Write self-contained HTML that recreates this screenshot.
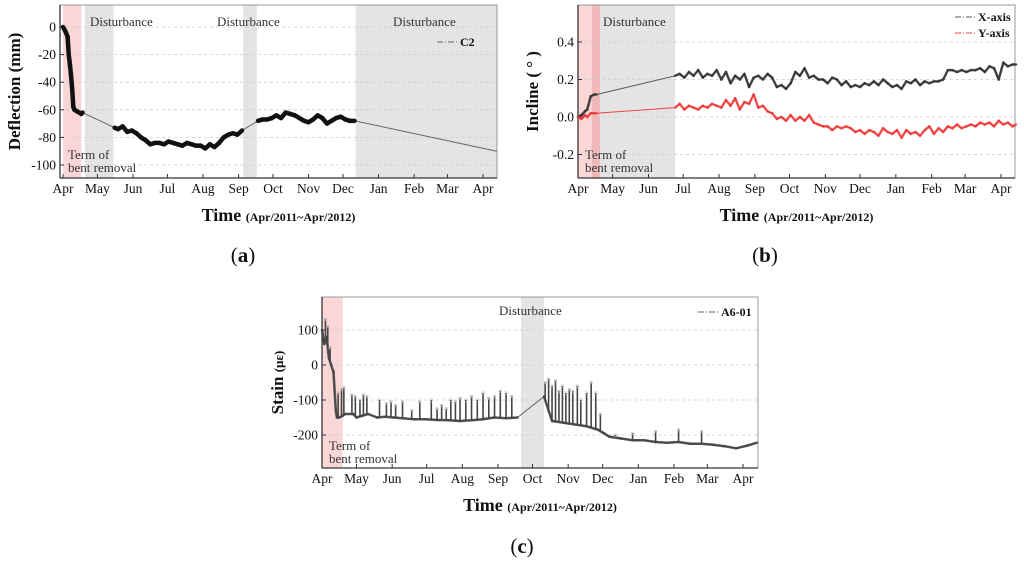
<!DOCTYPE html>
<html><head><meta charset="utf-8">
<style>
body{margin:0;background:#fff;width:1024px;height:562px;overflow:hidden;font-family:"Liberation Serif",serif;}
svg{position:absolute;left:0;top:0}
</style></head>
<body>
<svg id="s" width="1024" height="562" xmlns="http://www.w3.org/2000/svg"></svg>
<script>
// ---------- data ----------
const months=["Apr","May","Jun","Jul","Aug","Sep","Oct","Nov","Dec","Jan","Feb","Mar","Apr"];
const monthDays=[0,30,61,91,122,153,183,214,244,275,306,335,366];
const aTicks=[0,-20,-40,-60,-80,-100];
const aDays=[0,2,4,5,6,7,8,9,10,12,14,16,17,45,48,52,56,60,64,68,72,76,80,84,88,92,96,100,104,108,112,116,120,124,128,132,136,140,144,148,152,156,170,174,178,182,186,190,194,198,202,206,210,214,218,222,226,230,234,238,242,246,250,254,378];
const aVals=[0,-3,-7,-20,-27,-35,-45,-58,-60,-61,-62,-63,-62,-73,-74,-72,-76,-75,-77,-80,-82,-85,-84,-84,-85,-83,-84,-85,-86,-84,-85,-86,-86,-88,-85,-87,-84,-80,-78,-77,-78,-75,-68,-67,-67,-66,-64,-66,-62,-63,-64,-66,-68,-69,-67,-64,-66,-70,-68,-66,-65,-67,-68,-68,-90];
const bTicks=[0.4,0.2,0.0,-0.2];
const bDays=[0,3,6,8,11,14,16,84,88,92,96,100,104,108,112,116,120,124,128,132,136,140,144,148,152,156,160,164,168,172,176,180,184,188,192,196,200,204,208,212,216,220,224,228,232,236,240,244,248,252,256,260,264,268,272,276,280,284,288,292,296,300,304,308,312,316,320,324,328,332,336,340,344,348,352,356,360,364,368,372,376,379];
const bX=[0.0,0.01,0.03,0.04,0.11,0.12,0.12,0.22,0.23,0.21,0.24,0.22,0.25,0.21,0.23,0.22,0.25,0.2,0.24,0.18,0.22,0.2,0.23,0.16,0.21,0.22,0.2,0.23,0.21,0.16,0.17,0.15,0.18,0.24,0.22,0.26,0.21,0.22,0.2,0.2,0.18,0.21,0.2,0.17,0.19,0.16,0.17,0.16,0.18,0.17,0.19,0.17,0.2,0.18,0.16,0.17,0.15,0.19,0.18,0.2,0.17,0.19,0.18,0.19,0.19,0.2,0.25,0.25,0.24,0.25,0.24,0.25,0.25,0.26,0.24,0.27,0.26,0.2,0.29,0.27,0.28,0.28];
const bY=[0.0,-0.01,0.01,0.0,0.02,0.02,0.02,0.05,0.07,0.04,0.06,0.05,0.04,0.06,0.05,0.07,0.06,0.05,0.09,0.06,0.1,0.04,0.08,0.07,0.12,0.05,0.06,0.03,0.02,-0.01,0.0,-0.02,0.01,-0.02,0.0,-0.02,0.01,-0.03,-0.04,-0.05,-0.05,-0.07,-0.05,-0.06,-0.05,-0.06,-0.08,-0.07,-0.09,-0.07,-0.08,-0.1,-0.06,-0.08,-0.09,-0.07,-0.11,-0.07,-0.09,-0.08,-0.1,-0.07,-0.05,-0.09,-0.06,-0.08,-0.05,-0.06,-0.04,-0.06,-0.05,-0.04,-0.05,-0.03,-0.04,-0.03,-0.05,-0.02,-0.04,-0.03,-0.05,-0.04];
const cTicks=[100,0,-100,-200];
const cDays=[0,2,4,6,8,10,12,13,15,18,20,27,30,35,40,48,55,62,70,80,90,100,110,120,130,140,150,160,170,193,200,210,220,230,240,245,250,260,270,280,290,300,310,320,330,340,350,360,370,378];
const cVals=[100,60,80,20,0,-20,-130,-150,-150,-145,-140,-140,-150,-145,-140,-150,-148,-150,-152,-155,-155,-157,-158,-160,-158,-155,-150,-152,-150,-90,-160,-165,-170,-175,-185,-195,-205,-210,-215,-215,-220,-222,-220,-225,-225,-228,-232,-238,-230,-222];
const cSpikeDays=[3,5,7,14,17,19,26,29,33,36,39,50,56,60,64,70,78,85,95,100,104,108,112,116,120,125,130,135,140,145,150,155,160,165,194,197,200,203,206,209,212,215,218,222,225,230,234,238,242,255,270,290,310,330];
const cSpikeVals=[130,110,50,-80,-70,-65,-85,-90,-100,-85,-90,-100,-110,-105,-115,-105,-130,-105,-100,-125,-115,-125,-100,-105,-95,-100,-90,-100,-80,-95,-90,-75,-80,-90,-50,-40,-60,-45,-75,-60,-80,-70,-75,-60,-100,-80,-50,-80,-140,-200,-195,-190,-185,-190];

const NS="http://www.w3.org/2000/svg";
const svg=document.getElementById('s');
function el(tag,attrs,parent){const e=document.createElementNS(NS,tag);for(const k in attrs)e.setAttribute(k,attrs[k]);(parent||svg).appendChild(e);return e;}
function txt(x,y,s,size,opts,parent){const t=el('text',Object.assign({x:x,y:y,'font-size':size,'font-family':'Liberation Serif, serif',fill:'#111'},opts||{}),parent);t.textContent=s;return t;}

function panel(P){
  const g=el('g',{});
  
  
  const X=d=>P.x0+(d)*(P.x1-P.x0)/366;
  const Y=v=>P.yA+(v-P.vA)*(P.yB-P.yA)/(P.vB-P.vA);
  P.shades.forEach(s=>{const r=el('rect',{x:X(s[0]),y:P.top,width:X(s[1])-X(s[0]),height:P.bot-P.top,fill:s[2]},g);
    
    });
  P.ticks.forEach(v=>{const l=el('line',{x1:P.left,x2:P.right,y1:Y(v),y2:Y(v),stroke:'#ccc','stroke-dasharray':'3,3','stroke-width':0.8},g);
    
    });
  const fr=el('rect',{x:P.left,y:P.top,width:P.right-P.left,height:P.bot-P.top,fill:'none',stroke:'#999','stroke-width':1},g);
  
  
  el('line',{x1:P.left,x2:P.left,y1:P.top,y2:P.bot,stroke:'#333','stroke-width':1.3},g);
  el('line',{x1:P.left,x2:P.right,y1:P.bot,y2:P.bot,stroke:'#333','stroke-width':1.3},g);
  P.ticks.forEach(v=>{el('line',{x1:P.left,x2:P.left+4,y1:Y(v),y2:Y(v),stroke:'#333'},g);
    const t=txt(P.left-4,Y(v)+4.5,P.fmt(v),13.5,{'text-anchor':'end'},g);
    
    });
  months.forEach((m,i)=>{const x=X(monthDays[i]);el('line',{x1:x,x2:x,y1:P.bot,y2:P.bot-4,stroke:'#333'},g);
    const t=txt(x,P.bot+15,m,13.5,{'text-anchor':'middle'},g);
    
    });
  P.series.forEach(S=>{
    const pts=S.d.map((d,i)=>X(d).toFixed(1)+','+Y(S.v[i]).toFixed(1)).join(' ');
    const pl=el('polyline',{points:pts,fill:'none',stroke:S.thin,'stroke-width':1},g);
    
    
    for(let i=1;i<S.d.length;i++){ if(S.d[i]-S.d[i-1]<=S.gap){
      const sg=el('line',{x1:X(S.d[i-1]),y1:Y(S.v[i-1]),x2:X(S.d[i]),y2:Y(S.v[i]),stroke:S.col,'stroke-width':S.w,'stroke-linecap':'round','stroke-opacity':S.op},g);
      
      }}
    if(S.sd){S.sd.forEach((d,i)=>{
      let j=1;while(j<S.d.length-1&&S.d[j]<d)j++;
      const f=(d-S.d[j-1])/(S.d[j]-S.d[j-1]);const base=S.v[j-1]+f*(S.v[j]-S.v[j-1]);
      const sp=el('line',{x1:X(d),x2:X(d),y1:Y(base),y2:Y(S.sv[i]),stroke:S.col,'stroke-width':1.6},g);
      
      
      el('circle',{cx:X(d),cy:Y(S.sv[i]),r:1.3,fill:'none',stroke:'#bbb','stroke-width':0.6},g);});}
  });
  P.notes.forEach(n=>{const t=txt(n[0],n[1],n[2],13,{fill:'#333'},g);
    
    });
  P.legend.forEach((L,i)=>{const y=P.legY+i*16;
    el('line',{x1:P.right-60,x2:P.right-38,y1:y-4,y2:y-4,stroke:L[1],'stroke-dasharray':'6,2,1,2','stroke-width':1},g);
    const t=txt(P.right-37,y,L[0],12,{'font-weight':'bold'},g);
    
    });
  const cy=(P.top+P.bot)/2;
  const yt=el('text',{x:0,y:0,'font-size':17,'font-weight':'bold','font-family':'Liberation Serif, serif','text-anchor':'middle',transform:`translate(${P.ytx},${cy}) rotate(-90)`,fill:'#111'},g);
  yt.innerHTML=P.ytitle;
  
  
  const cx=(P.left+P.right)/2;
  const xt=el('text',{x:cx,y:P.bot+43,'font-size':18,'font-weight':'bold','font-family':'Liberation Serif, serif','text-anchor':'middle',fill:'#111'},g);
  xt.innerHTML='Time <tspan font-size="12">(Apr/2011~Apr/2012)</tspan>';
  
  
  const lb=el('text',{x:P.labx,y:P.laby,'font-size':21,'font-family':'Liberation Serif, serif','text-anchor':'middle',fill:'#111'},g);
  lb.innerHTML='(<tspan font-weight="bold">'+P.lab+'</tspan>)';
  
  
}
const pink='rgba(245,180,180,0.55)',gray='#e4e4e4';
panel({name:'panel-a-deflection',left:60,right:497,top:5,bot:178,x0:63,x1:483,yA:27,vA:0,yB:165,vB:-100,
  ticks:aTicks,fmt:v=>String(v),
  shades:[[0,16,pink,'bent-removal-band'],[19,44,gray,'disturbance-band'],[157,169,gray,'disturbance-band'],[255,378,gray,'disturbance-band']],
  series:[{name:'c2',d:aDays,v:aVals,col:'#111',thin:'#666',w:4.5,gap:5,op:1}],
  notes:[[90,26,'Disturbance'],[217,26,'Disturbance'],[393,26,'Disturbance'],[68,159,'Term of'],[68,172,'bent removal']],
  legend:[['C2','#666']],legY:46,ytitle:'Deflection (mm)',ytx:20,lab:'a',labx:243,laby:262});
panel({name:'panel-b-incline',left:578,right:1015,top:5,bot:178,x0:578,x1:1001,yA:117,vA:0,yB:42,vB:0.4,
  ticks:bTicks,fmt:v=>v.toFixed(1),
  shades:[[0,19,pink,'bent-removal-band'],[12,19,'rgba(220,130,130,0.35)','bent-removal-band'],[19,84,gray,'disturbance-band']],
  series:[{name:'x-axis',d:bDays,v:bX,col:'#333',thin:'#555',w:2.5,gap:5,op:0.85},
          {name:'y-axis',d:bDays,v:bY,col:'#e33',thin:'#e44',w:2.5,gap:5,op:0.75}],
  notes:[[603,26,'Disturbance'],[585,159,'Term of'],[585,172,'bent removal']],
  legend:[['X-axis','#555'],['Y-axis','#e44']],legY:21,ytitle:'Incline ( ° )',ytx:538,lab:'b',labx:765,laby:262});
panel({name:'panel-c-strain',left:322,right:758,top:297,bot:468,x0:322,x1:743,yA:365,vA:0,yB:400,vB:-100,
  ticks:cTicks,fmt:v=>String(v),
  shades:[[0,18,pink,'bent-removal-band'],[173,193,gray,'disturbance-band']],
  series:[{name:'a6-01',d:cDays,v:cVals,col:'#444',thin:'#666',w:2.5,gap:10,op:0.9,sd:cSpikeDays,sv:cSpikeVals}],
  notes:[[499,315,'Disturbance'],[329,450,'Term of'],[329,463,'bent removal']],
  legend:[['A6-01','#666']],legY:316,ytitle:'Stain <tspan font-size="13">(με)</tspan>',ytx:283,lab:'c',labx:522,laby:553});
</script>
</body></html>
